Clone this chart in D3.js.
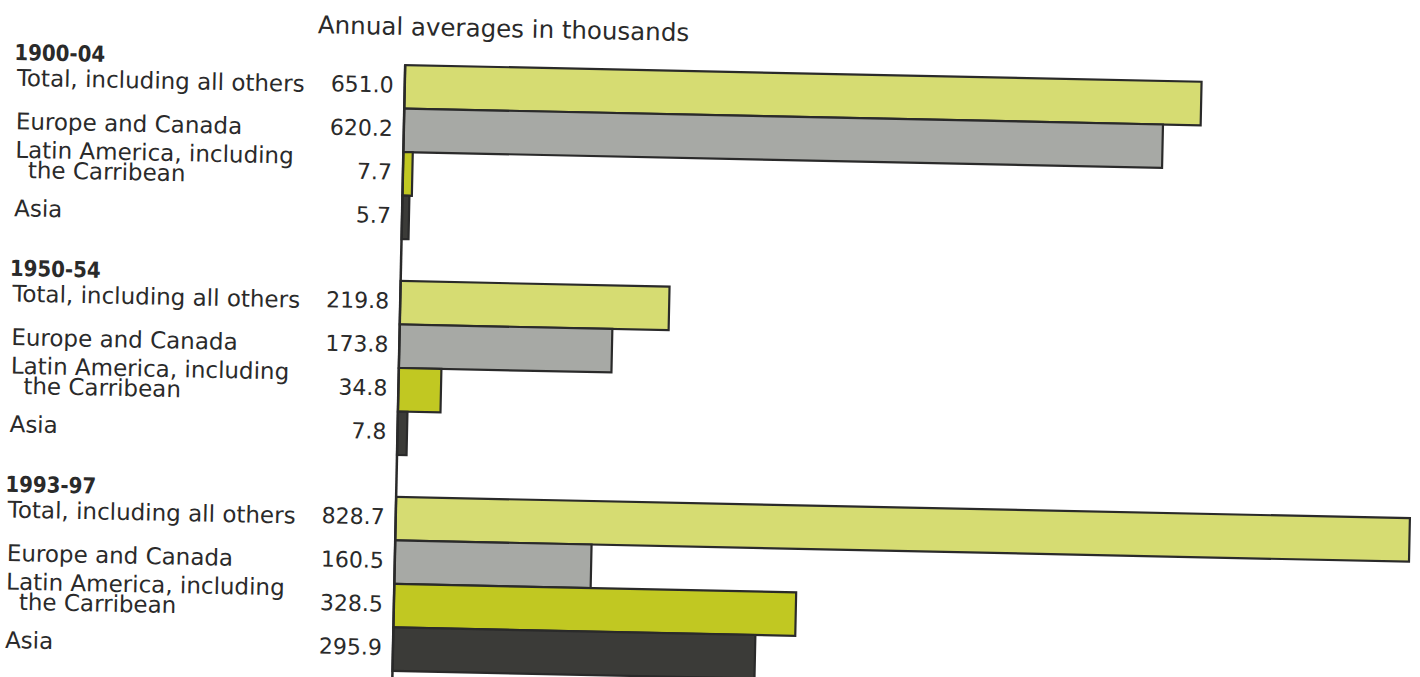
<!DOCTYPE html>
<html>
<head>
<meta charset="utf-8">
<script src="https://cdn.jsdelivr.net/npm/d3@7/dist/d3.min.js"></script>
<style>
  html, body { margin: 0; padding: 0; background: #ffffff; }
  svg { display: block; }
</style>
</head>
<body>
<div id="chart"></div>
<script>
// ---- Data ----
const periods = ["1900-04", "1950-54", "1993-97"];
const categoryLines = [
  ["Total, including all others"],
  ["Europe and Canada"],
  ["Latin America, including", "the Carribean"],
  ["Asia"]
];
const values1900 = [651.0, 620.2, 7.7, 5.7];
const values1950 = [219.8, 173.8, 34.8, 7.8];
const values1993 = [828.7, 160.5, 328.5, 295.9];
const chartTitle = "Annual averages in thousands";

// ---- Styles ----
const barColors = ["#d6dc72", "#a7a9a5", "#c1c822", "#3b3b38"];
const inkColor = "#2a2a2a";
const fontFamily = "'DejaVu Sans', Verdana, sans-serif";
const headFamily = "'DejaVu Sans Condensed', 'DejaVu Sans', sans-serif";

const W = 1420, H = 677;
const seriesByPeriod = [values1900, values1950, values1993];

const svg = d3.select("#chart").append("svg")
  .attr("width", W).attr("height", H)
  .style("background", "#ffffff");

// the scanned original is slightly tilted
const g = svg.append("g").attr("transform", "rotate(1.2, 399, 360)");

const maxVal = d3.max(seriesByPeriod.flat());
const x = d3.scaleLinear().domain([0, maxVal]).range([399, 1413]);

const yGroup = d3.scaleBand().domain(periods).range([65, 671]).paddingInner(0.194).paddingOuter(0);
const yCat = d3.scaleBand().domain(d3.range(categoryLines.length)).range([0, yGroup.bandwidth()]).padding(0);

const fmt = d3.format(".1f");

// title
g.append("text")
  .attr("x", 311).attr("y", 35)
  .attr("font-family", fontFamily)
  .attr("font-size", 24.5)
  .attr("fill", inkColor)
  .text(chartTitle);

const groups = g.selectAll("g.period")
  .data(periods.map((p, pi) => ({ period: p, values: seriesByPeriod[pi] })))
  .join("g")
  .attr("class", "period")
  .attr("transform", d => `translate(0, ${yGroup(d.period)})`);

// group heading
groups.append("text")
  .attr("x", 8).attr("y", 3)
  .attr("font-family", headFamily)
  .attr("font-weight", "bold")
  .attr("font-size", 22)
  .attr("fill", inkColor)
  .text(d => d.period);

const rows = groups.selectAll("g.row")
  .data(d => d.values.map((v, i) => ({ v, i })))
  .join("g")
  .attr("class", "row");

// bars
rows.append("rect")
  .attr("x", x(0))
  .attr("y", d => yCat(d.i))
  .attr("width", d => x(d.v) - x(0))
  .attr("height", yCat.bandwidth())
  .attr("fill", d => barColors[d.i])
  .attr("stroke", inkColor)
  .attr("stroke-width", 2.2);

// value labels
rows.append("text")
  .attr("x", x(0) - 11)
  .attr("y", d => yCat(d.i) + yCat.bandwidth() / 2 + 6)
  .attr("text-anchor", "end")
  .attr("font-family", fontFamily)
  .attr("font-size", 22)
  .attr("fill", inkColor)
  .text(d => fmt(d.v));

// category labels
rows.each(function(d) {
  const lines = categoryLines[d.i];
  const c = yCat(d.i) + yCat.bandwidth() / 2;
  const t = d3.select(this).append("text")
    .attr("font-family", fontFamily)
    .attr("font-size", 23)
    .attr("fill", inkColor);
  lines.forEach((ln, li) => {
    const base = lines.length === 1 ? c + 7 : c - 8 + li * 20;
    t.append("tspan")
      .attr("x", li === 0 ? 11 : 24)
      .attr("y", base)
      .text(ln);
  });
});

// vertical axis line
g.append("line")
  .attr("x1", x(0)).attr("x2", x(0))
  .attr("y1", yGroup.range()[0]).attr("y2", H + 20)
  .attr("stroke", inkColor)
  .attr("stroke-width", 2.5);
</script>
</body>
</html>
